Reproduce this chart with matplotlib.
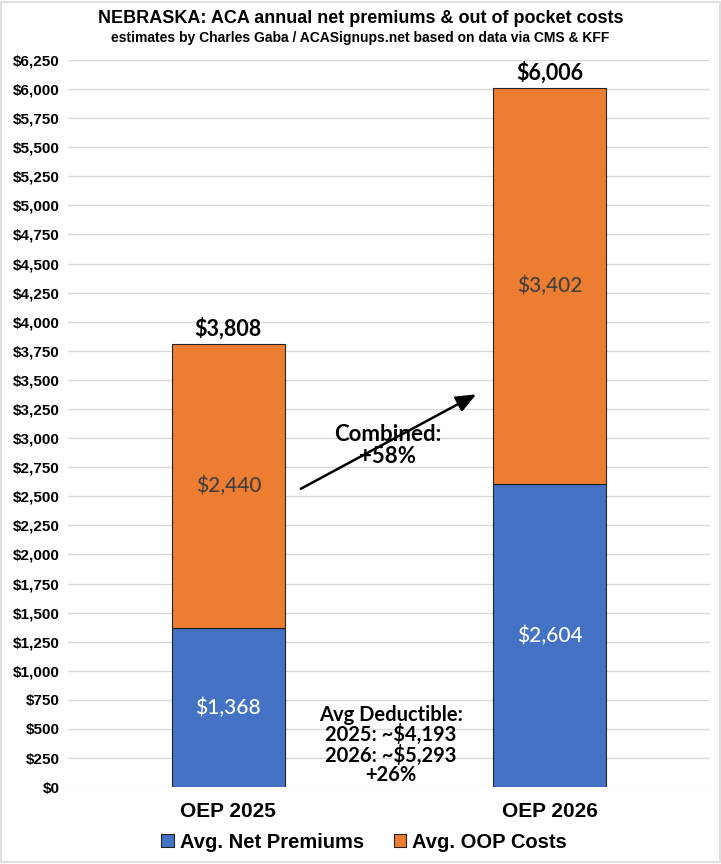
import matplotlib
matplotlib.use("Agg")
import matplotlib.pyplot as plt
from matplotlib.patches import Rectangle

categories = ["OEP 2025", "OEP 2026"]
net_premiums = [1368, 2604]
oop_costs = [2440, 3402]
totals = [3808, 6006]
premium_labels = ["$1,368", "$2,604"]
oop_labels = ["$2,440", "$3,402"]
total_labels = ["$3,808", "$6,006"]

narrow = ["Liberation Sans Narrow", "Liberation Sans", "DejaVu Sans"]
calib = ["Lato", "DejaVu Sans"]

fig = plt.figure(figsize=(7.21, 8.64), dpi=100)
ax = fig.add_axes([0.094, 0.089, 0.891, 0.8416])

x = [0, 1]
w = 0.35
ax.bar(x, net_premiums, w, color="#4472C4", edgecolor="#222222", linewidth=0.8,
       label="Avg. Net Premiums", zorder=3)
ax.bar(x, oop_costs, w, bottom=net_premiums, color="#ED7D31", edgecolor="#222222",
       linewidth=0.8, label="Avg. OOP Costs", zorder=3)

for i in x:
    ax.text(i, net_premiums[i] / 2, premium_labels[i], ha="center", va="center",
            color="white", fontsize=15, family=calib, fontweight="medium", zorder=4)
    ax.text(i, net_premiums[i] + oop_costs[i] / 2, oop_labels[i], ha="center",
            va="center", color="#404040", fontsize=15, family=calib,
            fontweight="medium", zorder=4)
    ax.text(i, totals[i] + 40, total_labels[i], ha="center", va="bottom",
            fontsize=15.5, fontweight="bold", family=calib, zorder=4)

ax.set_xlim(-0.5, 1.5)
ax.set_ylim(0, 6250)
ax.set_yticks(range(0, 6251, 250))
ax.set_yticklabels(["${:,}".format(v) for v in range(0, 6251, 250)])
ax.set_xticks(x)
ax.set_xticklabels(categories)
for lab in ax.get_yticklabels():
    lab.set_family(narrow)
    lab.set_fontweight("bold")
    lab.set_fontsize(11)
for lab in ax.get_xticklabels():
    lab.set_family(narrow)
    lab.set_fontweight("bold")
    lab.set_fontsize(15)
ax.tick_params(axis="x", length=0, pad=11)
ax.tick_params(axis="y", length=0, pad=6)
ax.grid(axis="y", color="#D9D9D9", linewidth=1, zorder=0)
for s in ax.spines.values():
    s.set_visible(False)

ax.annotate("", xy=(0.779, 3387), xytext=(0.218, 2553),
            arrowprops=dict(arrowstyle="-|>,head_length=1.2,head_width=0.5",
                            color="black", lw=1.8), zorder=5)
ax.text(0.495, 2935, "Combined:\n+58%", ha="center", va="center", fontsize=16,
        fontweight="bold", family=calib, linespacing=1.1, zorder=6)
ax.text(0.505, 361, "Avg Deductible:\n2025: ~$4,193\n2026: ~$5,293\n+26%",
        ha="center", va="center", fontsize=14.5, fontweight="bold", family=calib,
        linespacing=0.96, zorder=6, clip_on=False)

fig.text(0.5, 0.979, "NEBRASKA: ACA annual net premiums & out of pocket costs",
         ha="center", va="center", fontsize=13, fontweight="bold", family=narrow)
fig.text(0.5, 0.956, "estimates by Charles Gaba / ACASignups.net based on data via CMS & KFF",
         ha="center", va="center", fontsize=10, fontweight="bold", family=narrow)

leg = fig.legend(loc="center", bbox_to_anchor=(0.505, 0.025), ncol=2, frameon=False,
                 handlelength=0.6, handleheight=0.6, handletextpad=0.3, columnspacing=1.5,
                 prop={"family": narrow, "weight": "bold", "size": 14.5})

fig.patches.append(Rectangle((0.002, 0.002), 0.996, 0.996, transform=fig.transFigure,
                             fill=False, edgecolor="#D9D9D9", linewidth=1.2))

plt.savefig("out.png", dpi=100)
